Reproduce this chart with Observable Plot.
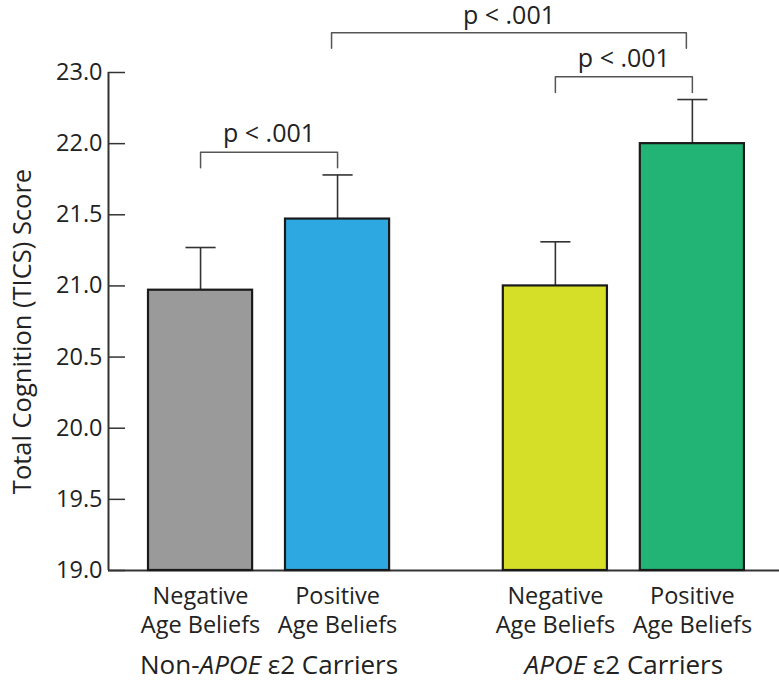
<!DOCTYPE html>
<html><head><meta charset="utf-8">
<script src="https://cdn.jsdelivr.net/npm/d3@7"></script>
<script src="https://cdn.jsdelivr.net/npm/@observablehq/plot@0.6"></script>
<style>
body{margin:0;background:#fff;}
#chart{width:779px;height:683px;}
</style></head><body><div id="chart"></div>
<script>
// ---- data ----
const groups = ["Non-APOE ε2 Carriers", "APOE ε2 Carriers"];
const beliefLabels = ["Negative\nAge Beliefs", "Positive\nAge Beliefs"];
const barGroup = [0, 0, 1, 1];
const barBelief = [0, 1, 0, 1];
const means = [20.97, 21.47, 21.00, 22.00];
const errors = [0.30, 0.31, 0.31, 0.31];
const colors = ["#9a9a9a", "#2ea8e1", "#d6df27", "#22b474"];
const yTicks = [19, 19.5, 20, 20.5, 21, 21.5, 22, 22.5];
const yTickLabels = ["19.0", "19.5", "20.0", "20.5", "21.0", "21.5", "22.0", "23.0"];
const compFrom = [0, 2, 1];
const compTo = [1, 3, 3];
const compLevel = [21.94, 22.47, 22.78];
const compLabel = ["p < .001", "p < .001", "p < .001"];
const yLabel = "Total Cognition (TICS) Score";

// ---- layout (slots on a linear x scale) ----
const GROUP_STEP = 2.59, HALF = 0.38, CAP = 0.11, LEG = 0.11;
const slot = i => barGroup[i] * GROUP_STEP + barBelief[i];
const xDomain = [-0.672, 4.226];

const bars = means.map((m, i) => ({
  s: slot(i), mean: m, top: m + errors[i], color: colors[i], label: beliefLabels[barBelief[i]]
}));
const comps = compFrom.map((f, k) => ({
  a: slot(f), b: slot(compTo[k]), level: compLevel[k], label: compLabel[k],
  across: barGroup[f] !== barGroup[compTo[k]]
}));
const bracketPts = c => [
  {x: c.a, y: c.level - LEG, k: c.label + c.a},
  {x: c.a, y: c.level, k: c.label + c.a},
  {x: c.b, y: c.level, k: c.label + c.a},
  {x: c.b, y: c.level - LEG, k: c.label + c.a}
];
const within = comps.filter(c => !c.across);
const across = comps.filter(c => c.across);
const groupData = groups.map((g, i) => ({name: g, s: i * GROUP_STEP + 0.5}));

const chart = Plot.plot({
  width: 779, height: 683,
  marginTop: 72, marginBottom: 113, marginLeft: 108, marginRight: 0,
  style: {fontFamily: "'Open Sans', sans-serif", fontSize: "23px", color: "#222", background: "#fff"},
  x: {domain: xDomain, axis: null},
  y: {domain: [19, 22.5], axis: null},
  marks: [
    Plot.axisY(yTicks, {
      tickSize: -17, tickPadding: 23, fontSize: 23.5, stroke: "#333", strokeWidth: 1.5,
      tickFormat: d => yTickLabels[yTicks.indexOf(d)],
      label: null
    }),
    Plot.text([yLabel], {frameAnchor: "left", rotate: -90, dx: -86, dy: 10, fontSize: 25.5, lineAnchor: "middle", textAnchor: "middle"}),
    Plot.ruleX([xDomain[0]], {y1: 19, y2: 22.5, stroke: "#333", strokeWidth: 2}),
    Plot.ruleY([19], {stroke: "#333", strokeWidth: 2}),
    Plot.ruleX(bars, {x: "s", y1: "mean", y2: "top", stroke: "#333", strokeWidth: 1.6}),
    Plot.link(bars, {x1: d => d.s - CAP, x2: d => d.s + CAP, y1: "top", y2: "top", stroke: "#333", strokeWidth: 1.6}),
    Plot.rect(bars, {x1: d => d.s - HALF, x2: d => d.s + HALF, y1: 19, y2: "mean", fill: d => d.color, stroke: "#1a1a1a", strokeWidth: 2.2}),
    Plot.line(within.flatMap(bracketPts), {x: "x", y: "y", z: "k", stroke: "#555", strokeWidth: 1.5}),
    Plot.line(across.flatMap(bracketPts), {x: "x", y: "y", z: "k", stroke: "#555", strokeWidth: 1.5, dx: -6}),
    Plot.text(within, {x: d => (d.a + d.b) / 2, y: "level", text: "label", dy: -10, lineAnchor: "bottom", fontSize: 25}),
    Plot.text(across, {x: d => (d.a + d.b) / 2, y: "level", text: "label", dy: -9, dx: -6, lineAnchor: "bottom", fontSize: 25}),
    Plot.text(bars, {x: "s", y: () => 19, text: "label", dy: 62, lineAnchor: "bottom", lineHeight: 1.2, fontSize: 23.5}),
    Plot.text(groupData, {x: "s", y: () => 19, text: "name", dy: 103, lineAnchor: "bottom", fontSize: 26})
  ]
});
document.getElementById("chart").appendChild(chart);

// italicise "APOE" in the group labels
d3.select(chart).selectAll("text").filter(function () {
  return groups.includes(this.textContent);
}).each(function () {
  const parts = this.textContent.split(/(APOE)/).filter(p => p.length);
  const t = d3.select(this);
  t.text(null);
  parts.forEach(p => {
    const sp = t.append("tspan").text(p);
    if (p === "APOE") sp.attr("font-style", "italic");
  });
});
</script>
</body></html>
